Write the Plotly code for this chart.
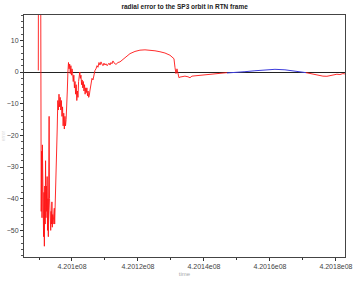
import plotly.graph_objects as go

title_text = "radial error to the SP3 orbit in RTN frame"
x_label = "time"
y_label = "error"

# red series (time in s, radial error)
red1_t = [420089790, 420089880, 420090450, 420090550,
          420090670, 420090790, 420090910, 420091030, 420091150, 420091270,
          420091390, 420091510, 420091630, 420091750, 420091870, 420091990,
          420092110, 420092230, 420092350, 420092470, 420092590, 420092710,
          420092830, 420092950, 420093070, 420093190, 420093310, 420093430,
          420093550, 420093670, 420093790, 420093910, 420094030, 420094150,
          420094270, 420094390, 420094510, 420094630, 420094750, 420094870,
          420095030, 420095270, 420095520, 420095700,
          420095880, 420096060, 420096240, 420096420, 420096600, 420096780,
          420096960, 420097140, 420097320, 420097500, 420097680, 420097860,
          420098040, 420098220, 420098400, 420098580, 420098760, 420098940,
          420099120, 420099300, 420099480, 420099660, 420099840, 420100020,
          420100200, 420100380, 420100560, 420100740, 420100920, 420101100,
          420101280, 420101460, 420101640, 420101820, 420102000, 420102180,
          420102360, 420102540, 420102720, 420102900, 420103080, 420103260,
          420103440, 420103620, 420103800, 420103980, 420104160, 420104340,
          420104520, 420104700, 420104880, 420105060, 420105240, 420105420,
          420105760, 420106060, 420106360, 420106670, 420106970, 420107270,
          420107580, 420107880, 420108180, 420108480, 420108790, 420109090,
          420109390, 420109700, 420110000, 420110300, 420110610, 420110910,
          420111210, 420111520, 420111820, 420112120, 420112420, 420112730,
          420113030, 420113330, 420113640, 420113940, 420114550, 420116060,
          420117580, 420119090, 420120610, 420122120, 420123640, 420125150,
          420126670, 420128180, 420129700, 420130610, 420130910, 420131210,
          420131520, 420131820, 420132120, 420132420, 420132730, 420133330,
          420134240, 420135150, 420135760, 420136360, 420137270, 420138790,
          420140300, 420141820, 420143330, 420144850, 420146970]
red1_v = [0.5, 60, 60, -22,
          -44, -25, -46, -23, -45, -30,
          -52, -38, -55, -36, -48, -28,
          -46, -36, -44, -33, -50, -40,
          -52, -30, -14, -40, -47, -42,
          -50, -44, -48, -41, -49, -45,
          -48, -44, -47, -43, -48, -44,
          -40, -30, -18, -9,
          -12, -7, -11, -8, -12, -9,
          -14, -11, -17, -13, -18, -14,
          -17, -15, -12, -6, 0, 3,
          1, 2.5, -0.5, 2, -1, 1,
          -0.5, -3, -1, -5, -3, -7,
          -4, -9, -6, -8, -3, -1,
          0, -2, -1, -4, -2.5, -5,
          -3, -6, -4, -7, -5, -6.5,
          -5, -7.5, -6, -8, -7.5, -6,
          -4, -2, -2.5, -0.5, 0.5, 1,
          2, 1.5, 3, 2.2, 3.2, 2.5,
          2.0, 2.8, 2.2, 2.6, 2.0, 2.3,
          2.8, 2.2, 3.0, 2.6, 3.5, 2.9,
          2.6, 2.4, 2.7, 3.0, 3.2, 4.6,
          5.8, 6.5, 6.9, 7.0, 6.9, 6.7,
          6.4, 6.0, 5.3, 4.6, 4.2, 1.5,
          -0.5, 1.0, -0.8, -1.8, -1.6, -1.5,
          -1.3, -1.5, -1.8, -1.3, -1.2, -1.2,
          -1.0, -0.8, -0.6, -0.4, -0.2]

# blue series
blue_t = [420146970, 420149390, 420152420, 420155450, 420158480,
          420161520, 420164550, 420167580, 420170910]
blue_v = [-0.3, -0.2, 0.1, 0.4, 0.7, 0.85, 0.7, 0.3, -0.2]

# red tail
red2_t = [420170910, 420172730, 420174550, 420176060, 420177270,
          420178790, 420180300, 420181210, 420182120, 420182730]
red2_v = [-0.2, -0.6, -1.0, -1.3, -1.35, -1.1, -0.7, -0.8, -0.5, -0.6]

x_tickvals = [420100000, 420120000, 420140000, 420160000, 420180000]
x_ticktext = ["4.201e08", "4.2012e08", "4.2014e08", "4.2016e08", "4.2018e08"]
y_tickvals = [10, 0, -10, -20, -30, -40, -50]

fig = go.Figure()
fig.add_trace(go.Scatter(x=red1_t, y=red1_v, mode="lines",
                         line=dict(color="rgb(255,20,20)", width=0.9)))
fig.add_trace(go.Scatter(x=blue_t, y=blue_v, mode="lines",
                         line=dict(color="rgb(60,60,220)", width=1)))
fig.add_trace(go.Scatter(x=red2_t, y=red2_v, mode="lines",
                         line=dict(color="rgb(255,20,20)", width=0.9)))

axis_font = dict(family="Liberation Sans, Arial, sans-serif", size=7, color="#444")

fig.update_layout(
    width=353, height=283,
    margin=dict(l=24, r=8, t=15, b=26),
    paper_bgcolor="white", plot_bgcolor="white",
    showlegend=False,
    title=dict(text="<b>" + title_text + "</b>", x=0.523,
               xanchor="center", y=0.985, yanchor="top",
               font=dict(family="Liberation Sans, Arial, sans-serif", size=6.5, color="#222")),
    xaxis=dict(range=[420085455, 420182750], tickvals=x_tickvals, ticktext=x_ticktext,
               ticks="outside", ticklen=3, tickcolor="#333", tickwidth=1,
               showline=True, linecolor="#444", linewidth=1, mirror=True,
               showgrid=False, zeroline=False, tickfont=axis_font, automargin=False,
               minor=dict(dtick=10000, tick0=420100000, ticks="outside", ticklen=2, tickcolor="#333"),
               title=dict(text=x_label, font=dict(family="Liberation Sans, Arial, sans-serif", size=6, color="#aaa"), standoff=2)),
    yaxis=dict(range=[-58.4, 18], tickvals=y_tickvals,
               ticks="outside", ticklen=3, tickcolor="#333", tickwidth=1,
               showline=True, linecolor="#444", linewidth=1, mirror=True,
               showgrid=False, zeroline=True, zerolinecolor="#222", zerolinewidth=1,
               tickfont=axis_font, automargin=False,
               minor=dict(dtick=2, tick0=0, ticks="outside", ticklen=2, tickcolor="#555"),
               title=dict(text=y_label, font=dict(family="Liberation Sans, Arial, sans-serif", size=5, color="#ddd"), standoff=2)),
)

fig.write_html("out.html")
